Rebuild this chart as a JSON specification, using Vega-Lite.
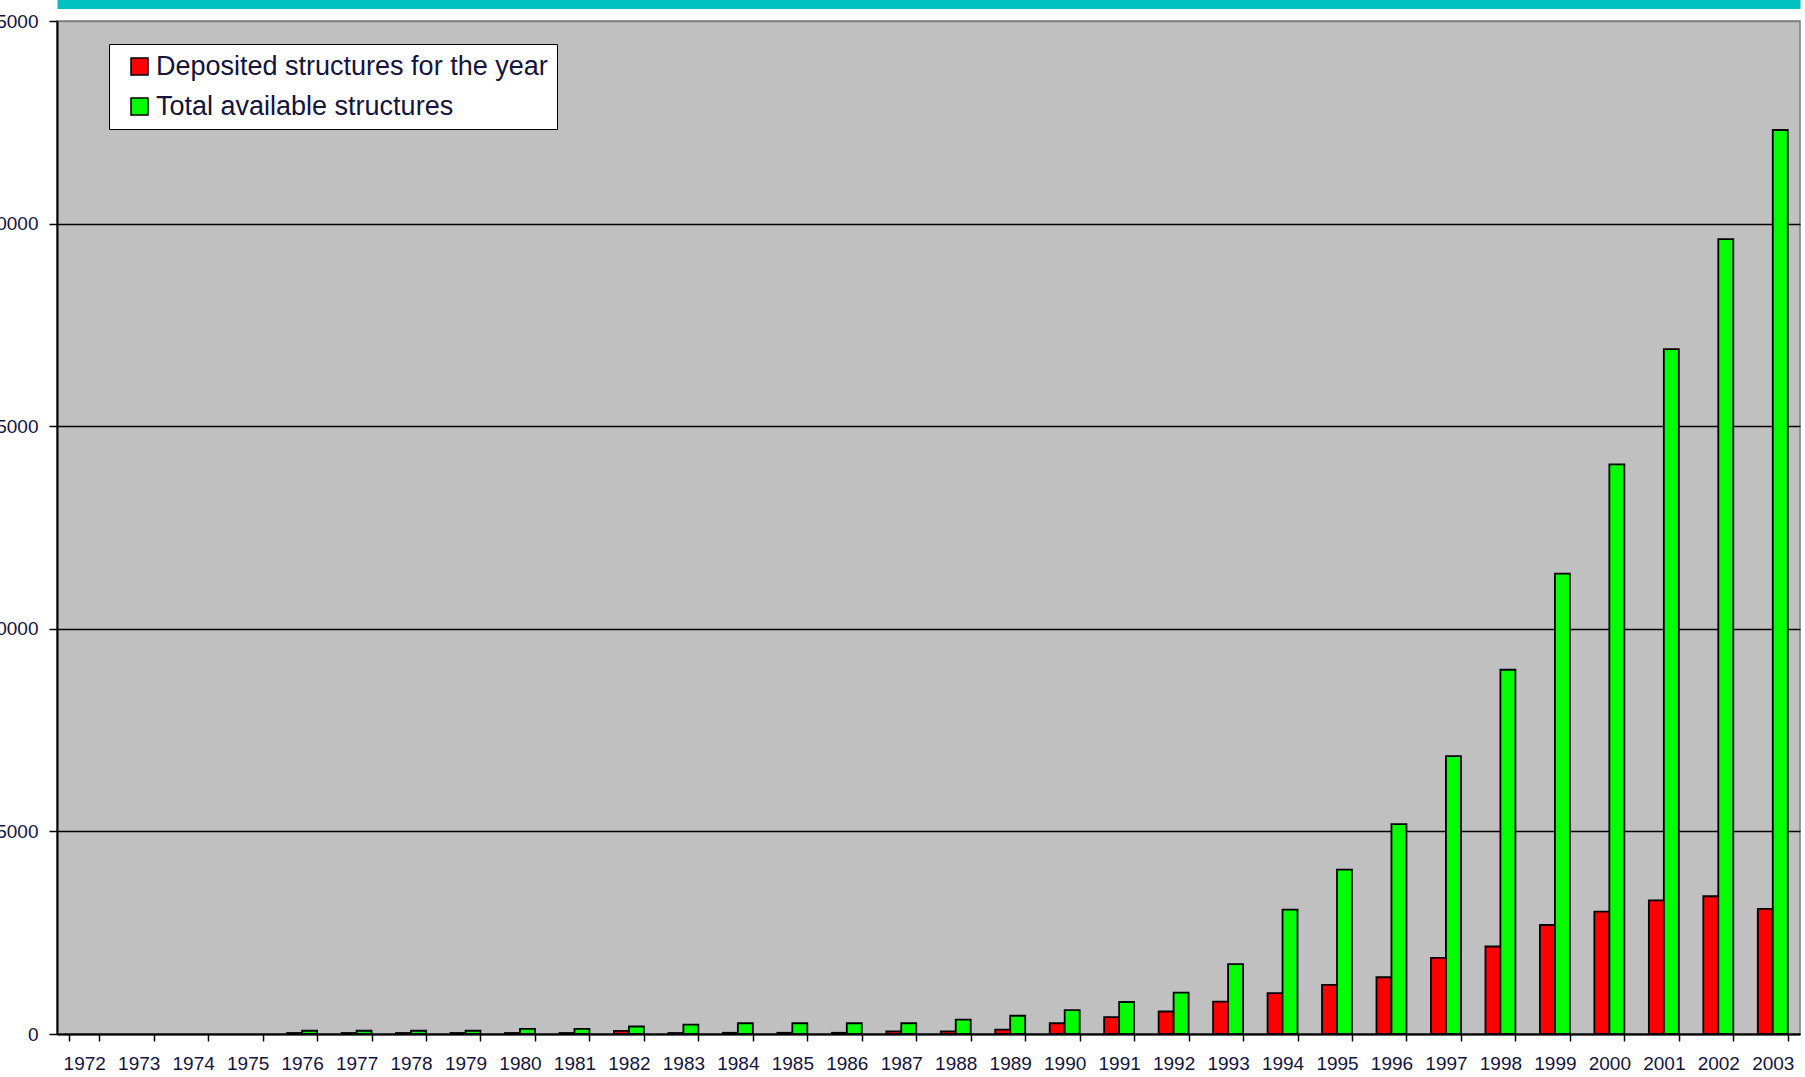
{
  "$schema": "https://vega.github.io/schema/vega-lite/v6.json",
  "width": 1743,
  "height": 1013,
  "autosize": "none",
  "padding": {"left": 57, "top": 21, "right": 5, "bottom": 43},
  "background": "white",
  "config": {
    "view": {"fill": "#C0C0C0", "stroke": "#7f7f7f", "strokeWidth": 1.5},
    "font": "Liberation Sans"
  },
  "data": {
    "values": [
      {"year": "1976", "series": "Deposited structures for the year", "value": 25},
      {"year": "1976", "series": "Total available structures", "value": 80},
      {"year": "1977", "series": "Deposited structures for the year", "value": 25},
      {"year": "1977", "series": "Total available structures", "value": 80},
      {"year": "1978", "series": "Deposited structures for the year", "value": 25},
      {"year": "1978", "series": "Total available structures", "value": 80},
      {"year": "1979", "series": "Deposited structures for the year", "value": 25},
      {"year": "1979", "series": "Total available structures", "value": 80},
      {"year": "1980", "series": "Deposited structures for the year", "value": 25},
      {"year": "1980", "series": "Total available structures", "value": 125},
      {"year": "1981", "series": "Deposited structures for the year", "value": 25},
      {"year": "1981", "series": "Total available structures", "value": 125},
      {"year": "1982", "series": "Deposited structures for the year", "value": 75},
      {"year": "1982", "series": "Total available structures", "value": 185},
      {"year": "1983", "series": "Deposited structures for the year", "value": 25},
      {"year": "1983", "series": "Total available structures", "value": 230},
      {"year": "1984", "series": "Deposited structures for the year", "value": 30},
      {"year": "1984", "series": "Total available structures", "value": 265},
      {"year": "1985", "series": "Deposited structures for the year", "value": 30},
      {"year": "1985", "series": "Total available structures", "value": 265},
      {"year": "1986", "series": "Deposited structures for the year", "value": 30},
      {"year": "1986", "series": "Total available structures", "value": 265},
      {"year": "1987", "series": "Deposited structures for the year", "value": 65},
      {"year": "1987", "series": "Total available structures", "value": 265},
      {"year": "1988", "series": "Deposited structures for the year", "value": 65},
      {"year": "1988", "series": "Total available structures", "value": 355},
      {"year": "1989", "series": "Deposited structures for the year", "value": 110},
      {"year": "1989", "series": "Total available structures", "value": 450},
      {"year": "1990", "series": "Deposited structures for the year", "value": 265},
      {"year": "1990", "series": "Total available structures", "value": 590},
      {"year": "1991", "series": "Deposited structures for the year", "value": 415},
      {"year": "1991", "series": "Total available structures", "value": 790},
      {"year": "1992", "series": "Deposited structures for the year", "value": 555},
      {"year": "1992", "series": "Total available structures", "value": 1020},
      {"year": "1993", "series": "Deposited structures for the year", "value": 800},
      {"year": "1993", "series": "Total available structures", "value": 1725},
      {"year": "1994", "series": "Deposited structures for the year", "value": 1010},
      {"year": "1994", "series": "Total available structures", "value": 3070},
      {"year": "1995", "series": "Deposited structures for the year", "value": 1210},
      {"year": "1995", "series": "Total available structures", "value": 4055},
      {"year": "1996", "series": "Deposited structures for the year", "value": 1400},
      {"year": "1996", "series": "Total available structures", "value": 5180},
      {"year": "1997", "series": "Deposited structures for the year", "value": 1880},
      {"year": "1997", "series": "Total available structures", "value": 6860},
      {"year": "1998", "series": "Deposited structures for the year", "value": 2160},
      {"year": "1998", "series": "Total available structures", "value": 8990},
      {"year": "1999", "series": "Deposited structures for the year", "value": 2690},
      {"year": "1999", "series": "Total available structures", "value": 11360},
      {"year": "2000", "series": "Deposited structures for the year", "value": 3020},
      {"year": "2000", "series": "Total available structures", "value": 14060},
      {"year": "2001", "series": "Deposited structures for the year", "value": 3300},
      {"year": "2001", "series": "Total available structures", "value": 16900},
      {"year": "2002", "series": "Deposited structures for the year", "value": 3400},
      {"year": "2002", "series": "Total available structures", "value": 19615},
      {"year": "2003", "series": "Deposited structures for the year", "value": 3090},
      {"year": "2003", "series": "Total available structures", "value": 22310}
    ]
  },
  "layer": [
    {
      "mark": {"type": "bar", "stroke": "black", "strokeWidth": 1.8},
      "encoding": {
        "x": {
          "field": "year",
          "type": "ordinal",
          "scale": {
            "domain": ["1972","1973","1974","1975","1976","1977","1978","1979","1980","1981","1982","1983","1984","1985","1986","1987","1988","1989","1990","1991","1992","1993","1994","1995","1996","1997","1998","1999","2000","2001","2002","2003"],
            "paddingInner": 0.45,
            "paddingOuter": 0.225
          },
          "axis": {
            "title": null,
            "tickBand": "extent",
            "labelAngle": 0,
            "tickSize": 7,
            "tickColor": "black",
            "tickWidth": 1.5,
            "domainColor": "black",
            "domainWidth": 2,
            "labelFont": "Liberation Sans",
            "labelFontSize": 19,
            "labelColor": "#14143c",
            "labelPadding": 13,
            "grid": false
          }
        },
        "xOffset": {
          "field": "series",
          "type": "nominal",
          "scale": {"domain": ["Deposited structures for the year", "Total available structures"], "paddingInner": 0, "paddingOuter": 0}
        },
        "y": {
          "field": "value",
          "type": "quantitative",
          "scale": {"domain": [0, 25000], "nice": false},
          "axis": {
            "title": null,
            "values": [0, 5000, 10000, 15000, 20000, 25000],
            "format": "d",
            "grid": true,
            "gridColor": {"condition": {"test": "datum.value === 25000", "value": "#7f7f7f"}, "value": "black"},
            "gridWidth": 1.5,
            "domainColor": "black",
            "domainWidth": 2,
            "tickColor": "black",
            "tickSize": 8,
            "tickWidth": 1.5,
            "labelFont": "Liberation Sans",
            "labelFontSize": 19,
            "labelColor": "#14143c",
            "labelPadding": 11
          }
        },
        "color": {
          "field": "series",
          "type": "nominal",
          "scale": {"domain": ["Deposited structures for the year", "Total available structures"], "range": ["#FF0000", "#00FF00"]},
          "legend": {
            "title": null,
            "orient": "none",
            "legendX": 52,
            "legendY": 23,
            "fillColor": "white",
            "strokeColor": "black",
            "padding": 9,
            "symbolType": "square",
            "symbolSize": 289,
            "symbolStrokeColor": "black",
            "symbolStrokeWidth": 1.5,
            "symbolOpacity": 1,
            "symbolOffset": 8,
            "labelFont": "Liberation Sans",
            "labelFontSize": 27,
            "labelColor": "#14143c",
            "labelLimit": 700,
            "labelOffset": 3,
            "rowPadding": 12
          }
        }
      }
    },
    {
      "mark": {"type": "tick", "opacity": 0},
      "encoding": {
        "x": {
          "field": "year",
          "type": "ordinal",
          "axis": {
            "orient": "top",
            "title": null,
            "labels": false,
            "ticks": false,
            "grid": false,
            "domainColor": "#00C0C0",
            "domainWidth": 9,
            "offset": 17
          }
        }
      }
    }
  ],
  "resolve": {"axis": {"x": "independent"}}
}
